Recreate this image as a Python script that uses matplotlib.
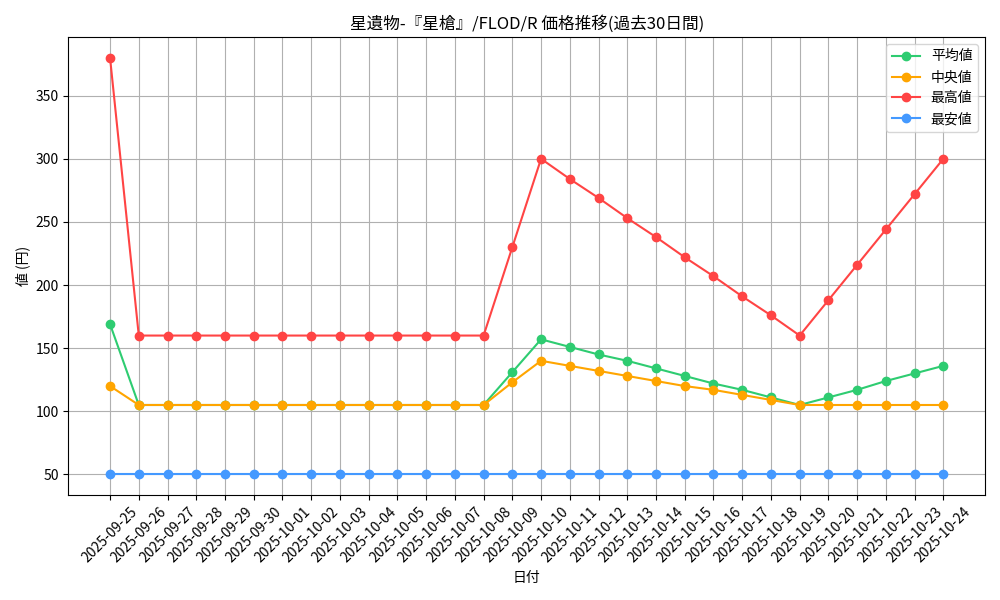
import matplotlib
matplotlib.use("Agg")
import matplotlib.pyplot as plt
import pandas as pd

plt.rcParams['font.family'] = ['Noto Sans CJK JP', 'DejaVu Sans']

dates = [d.strftime('%Y-%m-%d') for d in pd.date_range('2025-09-25', '2025-10-24')]

avg_vals = [169] + [105] * 13 + [131, 157, 151, 145, 140, 134, 128, 122, 117, 111, 105,
                                 111, 117, 124, 130, 136]
median_vals = [120] + [105] * 13 + [123, 140, 136, 132, 128, 124, 120, 117, 113, 109, 105,
                                    105, 105, 105, 105, 105]
max_vals = [380] + [160] * 13 + [230, 300, 284, 269, 253, 238, 222, 207, 191, 176, 160,
                                 188, 216, 244, 272, 300]
min_vals = [50] * 30

fig, ax = plt.subplots(figsize=(10, 6), dpi=100)
ax.plot(dates, avg_vals, marker='o', color='#2ecc71', label='平均値')
ax.plot(dates, median_vals, marker='o', color='#ffa500', label='中央値')
ax.plot(dates, max_vals, marker='o', color='#ff4444', label='最高値')
ax.plot(dates, min_vals, marker='o', color='#4499ff', label='最安値')

ax.set_title('星遺物-『星槍』/FLOD/R 価格推移(過去30日間)')
ax.set_xlabel('日付')
ax.set_ylabel('値 (円)')
ax.grid(True)
ax.legend(loc='upper right')
plt.xticks(rotation=45)
plt.tight_layout()
plt.savefig('out.png')
